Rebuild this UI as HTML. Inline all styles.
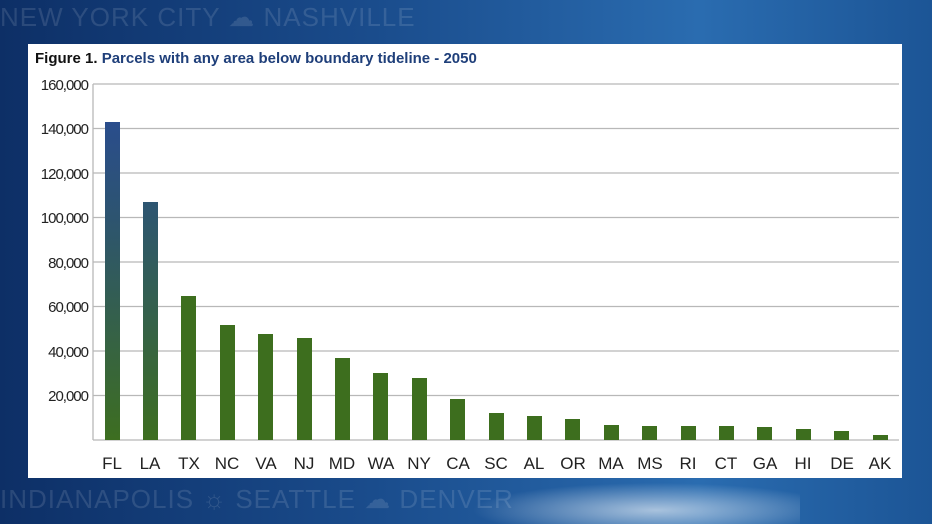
<!DOCTYPE html><html><head><style>
html,body{margin:0;width:932px;height:524px;overflow:hidden}
body{background:linear-gradient(90deg,#0d2f66 0%,#1a4c8c 40%,#2a6cb0 75%,#1c5596 100%);font-family:"Liberation Sans",sans-serif;position:relative}
.bgtxt{position:absolute;color:rgba(255,255,255,0.12);font-size:26px;letter-spacing:1px;white-space:nowrap}
.panel{position:absolute;left:28px;top:44px;width:874px;height:434px;background:#fff}
</style></head><body>
<div class="bgtxt" style="left:0;top:2px">NEW YORK CITY ☁ NASHVILLE</div>
<div class="bgtxt" style="left:0;top:484px">INDIANAPOLIS ☼ SEATTLE ☁ DENVER</div>
<div style="position:absolute;left:440px;top:478px;width:360px;height:46px;background:radial-gradient(ellipse at 60% 70%,rgba(255,255,255,0.6),rgba(255,255,255,0) 60%)"></div>
<div class="panel"></div>
<svg width="932" height="524" style="position:absolute;left:0;top:0">
<text x="35" y="63" font-size="15" font-weight="bold" fill="#111">Figure 1. <tspan fill="#1f3f7a">Parcels with any area below boundary tideline - 2050</tspan></text>
<defs>
<linearGradient id="gfl" x1="0" y1="0" x2="0" y2="1"><stop offset="0" stop-color="#2a4d8c"/><stop offset="0.3" stop-color="#2d5470"/><stop offset="1" stop-color="#3d6e20"/></linearGradient>
<linearGradient id="gla" x1="0" y1="0" x2="0" y2="1"><stop offset="0" stop-color="#2d5572"/><stop offset="1" stop-color="#3d6e20"/></linearGradient>
</defs>
<g stroke="#b8b8b8" stroke-width="1.3">
<line x1="93" x2="899" y1="84" y2="84"/><line x1="93" x2="899" y1="128.5" y2="128.5"/><line x1="93" x2="899" y1="173" y2="173"/><line x1="93" x2="899" y1="217.5" y2="217.5"/><line x1="93" x2="899" y1="262" y2="262"/><line x1="93" x2="899" y1="306.5" y2="306.5"/><line x1="93" x2="899" y1="351" y2="351"/><line x1="93" x2="899" y1="395.5" y2="395.5"/><line x1="93" x2="899" y1="440" y2="440"/>
<line x1="93" x2="93" y1="84" y2="440"/>
</g>
<g font-size="15" fill="#222" text-anchor="end" style="letter-spacing:-1px">
<text x="88" y="90">160,000</text><text x="88" y="134">140,000</text><text x="88" y="179">120,000</text><text x="88" y="223">100,000</text><text x="88" y="268">80,000</text><text x="88" y="312">60,000</text><text x="88" y="357">40,000</text><text x="88" y="401">20,000</text>
</g>
<g fill="#3d6e1e">
<rect x="105" y="122" width="15" height="318" fill="url(#gfl)"/>
<rect x="143" y="202" width="15" height="238" fill="url(#gla)"/>
<rect x="181" y="296" width="15" height="144"/>
<rect x="220" y="325" width="15" height="115"/>
<rect x="258" y="334" width="15" height="106"/>
<rect x="297" y="338" width="15" height="102"/>
<rect x="335" y="358" width="15" height="82"/>
<rect x="373" y="373" width="15" height="67"/>
<rect x="412" y="378" width="15" height="62"/>
<rect x="450" y="399" width="15" height="41"/>
<rect x="489" y="413" width="15" height="27"/>
<rect x="527" y="416" width="15" height="24"/>
<rect x="565" y="419" width="15" height="21"/>
<rect x="604" y="425" width="15" height="15"/>
<rect x="642" y="426" width="15" height="14"/>
<rect x="681" y="426" width="15" height="14"/>
<rect x="719" y="426" width="15" height="14"/>
<rect x="757" y="427" width="15" height="13"/>
<rect x="796" y="429" width="15" height="11"/>
<rect x="834" y="431" width="15" height="9"/>
<rect x="873" y="435" width="15" height="5"/>
</g>
<g font-size="17" fill="#222" text-anchor="middle">
<text x="112" y="469">FL</text><text x="150" y="469">LA</text><text x="189" y="469">TX</text><text x="227" y="469">NC</text><text x="266" y="469">VA</text><text x="304" y="469">NJ</text><text x="342" y="469">MD</text><text x="381" y="469">WA</text><text x="419" y="469">NY</text><text x="458" y="469">CA</text><text x="496" y="469">SC</text><text x="534" y="469">AL</text><text x="573" y="469">OR</text><text x="611" y="469">MA</text><text x="650" y="469">MS</text><text x="688" y="469">RI</text><text x="726" y="469">CT</text><text x="765" y="469">GA</text><text x="803" y="469">HI</text><text x="842" y="469">DE</text><text x="880" y="469">AK</text>
</g>
</svg>
</body></html>
